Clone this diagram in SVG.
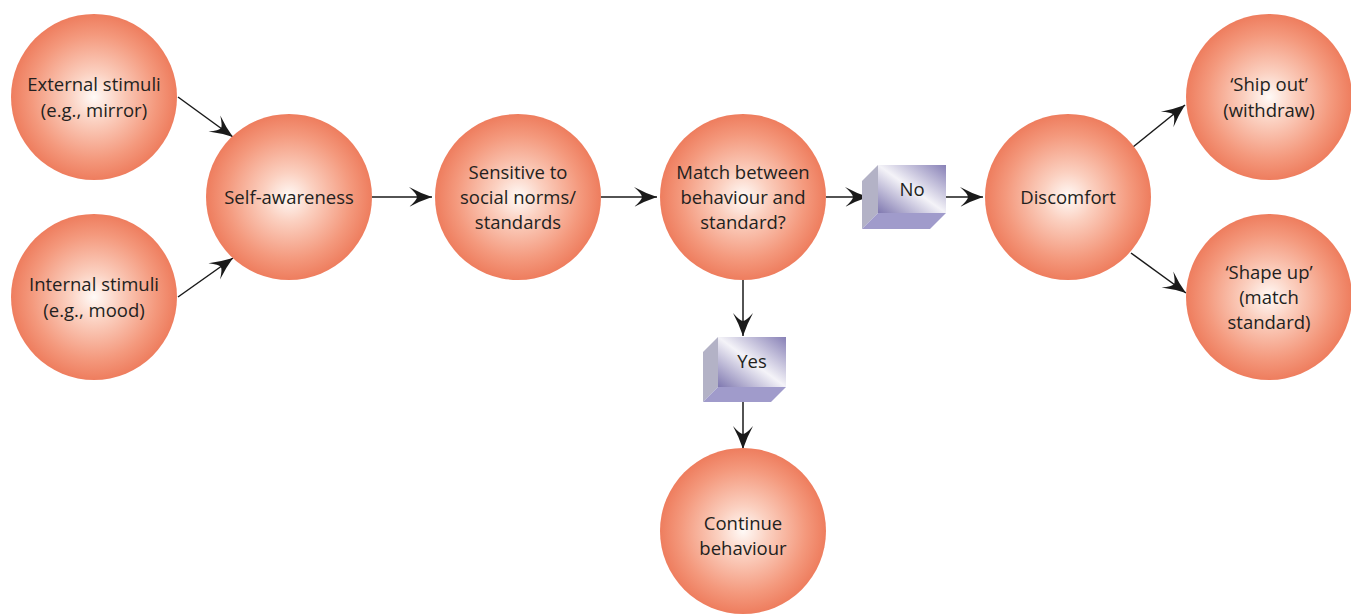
<svg xmlns="http://www.w3.org/2000/svg" width="1351" height="614" viewBox="0 0 1351 614">
<defs>
<radialGradient id="ball" cx="50%" cy="50%" r="50%">
<stop offset="0" stop-color="#fffaf7"/>
<stop offset="0.3" stop-color="#fbd0c0"/>
<stop offset="0.75" stop-color="#f4997d"/>
<stop offset="1" stop-color="#ee7d5e"/>
</radialGradient>
<linearGradient id="face" x1="0" y1="1" x2="1" y2="0">
<stop offset="0" stop-color="#7f78b0"/>
<stop offset="0.5" stop-color="#f4f3f8"/>
<stop offset="1" stop-color="#8780b6"/>
</linearGradient>
<marker id="ah" markerWidth="26" markerHeight="22" viewBox="-24 -11 26 22" refX="0" refY="0" orient="auto" markerUnits="userSpaceOnUse">
<path d="M0,0 Q-12,-4 -23,-10 Q-15,-3 -15,0 Q-15,3 -23,10 Q-12,4 0,0 Z" fill="#1a1a1a"/>
</marker>
<style>
.ball{fill:url(#ball)}
.t{font-family:"Open Sans","Liberation Sans",sans-serif;font-size:18.5px;fill:#231f20;text-anchor:middle}
.c{stroke:#1a1a1a;stroke-width:1.5;fill:none;marker-end:url(#ah)}
.side{fill:#b3b2c6}
.bot{fill:#a09bcb}
.face{fill:url(#face)}
</style>
</defs>
<g id="connectors">
<line class="c" x1="178" y1="97" x2="233" y2="137"/>
<line class="c" x1="178" y1="297" x2="233" y2="258"/>
<line class="c" x1="372" y1="197" x2="432" y2="197"/>
<line class="c" x1="601" y1="197" x2="657" y2="197"/>
<line class="c" x1="826" y1="197" x2="868" y2="197"/>
<line class="c" x1="946" y1="197" x2="983" y2="197"/>
<line class="c" x1="743" y1="280" x2="743" y2="336"/>
<line class="c" x1="743" y1="402" x2="743" y2="449"/>
<line class="c" x1="1133" y1="147" x2="1185" y2="105"/>
<line class="c" x1="1131" y1="253" x2="1186" y2="293"/>
</g>
<g id="external">
<circle class="ball" cx="94" cy="97" r="83"/>
<text class="t" x="94" y="91">External stimuli</text>
<text class="t" x="94" y="117">(e.g., mirror)</text>
</g>
<g id="internal">
<circle class="ball" cx="94" cy="297" r="83"/>
<text class="t" x="94" y="291">Internal stimuli</text>
<text class="t" x="94" y="317">(e.g., mood)</text>
</g>
<g id="self">
<circle class="ball" cx="289" cy="197" r="83"/>
<text class="t" x="289" y="204">Self-awareness</text>
</g>
<g id="sensitive">
<circle class="ball" cx="518" cy="197" r="83"/>
<text class="t" x="518" y="179">Sensitive to</text>
<text class="t" x="518" y="204">social norms/</text>
<text class="t" x="518" y="229">standards</text>
</g>
<g id="match">
<circle class="ball" cx="743" cy="197" r="83"/>
<text class="t" x="743" y="179">Match between</text>
<text class="t" x="743" y="204">behaviour and</text>
<text class="t" x="743" y="229">standard?</text>
</g>
<g id="no">
<polygon class="side" points="878,165 862,181 862,229 878,213"/>
<polygon class="bot" points="862,229 878,213 946,213 930,229"/>
<rect class="face" x="878" y="165" width="68" height="48"/>
<text class="t" x="912" y="196">No</text>
</g>
<g id="yes">
<polygon class="side" points="718,337 703,352 703,402 718,387"/>
<polygon class="bot" points="703,402 718,387 786,387 771,402"/>
<rect class="face" x="718" y="337" width="68" height="50"/>
<text class="t" x="752" y="368">Yes</text>
</g>
<g id="discomfort">
<circle class="ball" cx="1068" cy="197" r="83"/>
<text class="t" x="1068" y="204">Discomfort</text>
</g>
<g id="shipout">
<circle class="ball" cx="1269" cy="97" r="83"/>
<text class="t" x="1269" y="91">‘Ship out’</text>
<text class="t" x="1269" y="117">(withdraw)</text>
</g>
<g id="shapeup">
<circle class="ball" cx="1269" cy="297" r="83"/>
<text class="t" x="1269" y="279">‘Shape up’</text>
<text class="t" x="1269" y="304">(match</text>
<text class="t" x="1269" y="329">standard)</text>
</g>
<g id="continue">
<circle class="ball" cx="743" cy="531" r="83"/>
<text class="t" x="743" y="530">Continue</text>
<text class="t" x="743" y="555">behaviour</text>
</g>
</svg>
